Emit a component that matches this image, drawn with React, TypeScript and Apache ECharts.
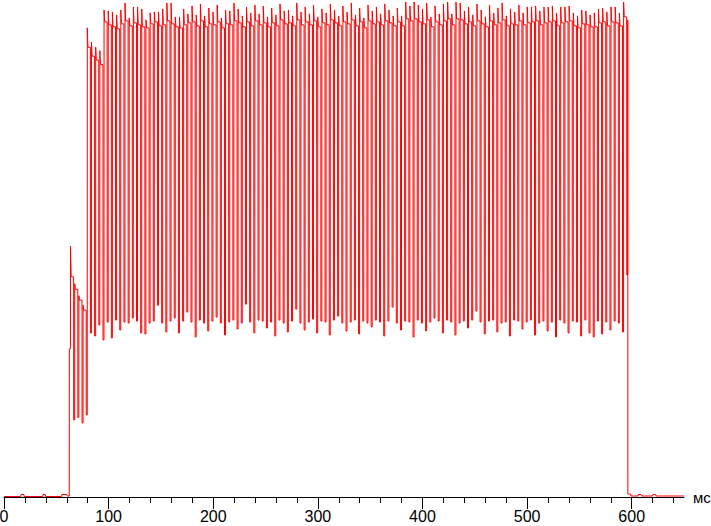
import React, { useEffect, useRef } from "react";
import * as echarts from "echarts";

// ---- Data ----
// Baseline before the light turns on (time ms, level)
const preT = [0, 16, 16.3, 19, 19.3, 37, 37.3, 39.5, 39.8, 55, 55.3, 60, 60.3, 62.4];
const preV = [0.1, 0.1, 0.5, 0.5, 0.1, 0.1, 0.5, 0.5, 0.1, 0.1, 0.5, 0.5, 0.2, 0.2];

// Turn-on step before the first PWM cycle
const stepT = [62.45, 63.5];
const stepV = [29.8, 29.8];

// PWM cycles: start time and period (ms)
const cycleStart = 63.6;
const cyclePeriod = 4.005;

// Peak reached at each rising edge
const peaks = [
  50.5, 42.9, 40.5, 38.6,
  94.4, 91.5, 90.5, 89.8,
  98.0, 97.8, 97.6, 97.0, 98.0, 99.4, 96.4, 98.6, 98.6, 98.2,
  96.0, 97.4, 97.6, 97.6, 98.2, 99.4, 99.4, 96.6, 96.6, 98.2,
  97.2, 98.8, 97.0, 99.2, 96.8, 98.4, 97.6, 99.0, 96.4, 98.0,
  97.8, 99.4, 98.2, 96.8, 98.6, 97.4, 99.0, 97.2, 98.8, 96.6,
  98.4, 97.0, 99.2, 97.8, 98.0, 96.8, 99.4, 97.6, 98.6, 97.2,
  99.0, 96.6, 98.2, 97.4, 99.2, 98.0, 96.8, 98.8, 97.6, 99.4,
  97.0, 98.4, 96.4, 99.0, 97.8, 98.6, 97.2, 99.2, 98.0, 96.8,
  98.4, 96.8, 99.6, 98.8, 99.6, 99.0, 98.2, 99.4, 96.6, 98.8,
  97.2, 99.2, 99.6, 97.2, 99.6, 99.4, 97.8, 98.6, 97.0, 99.2,
  98.0, 96.6, 99.0, 97.4, 98.4, 99.4, 96.8, 98.2, 97.6, 99.0,
  97.4, 98.6, 98.6, 98.8, 97.8, 98.6, 98.6, 98.8, 97.4, 98.6,
  98.6, 98.8, 97.4, 96.8, 98.0, 97.8, 97.0, 97.4, 98.2, 98.4,
  97.6, 98.6, 98.6, 97.4, 99.6,
];

// Plateau level after each peak
const plateaus = [
  44.3, 41.8, 39.6, 37.6,
  90.5, 88.7, 87.9, 87.0,
  95.6, 95.0, 94.6, 94.2, 95.2, 95.8, 94.8, 95.4, 95.0, 94.6,
  94.4, 95.2, 95.6, 94.8, 95.0, 95.8, 95.2, 94.6, 94.4, 95.0,
  95.4, 95.6, 94.8, 95.8, 94.6, 95.2, 95.0, 95.6, 94.4, 95.2,
  95.0, 95.8, 95.4, 94.6, 95.6, 94.8, 95.8, 95.0, 95.4, 94.6,
  95.4, 94.8, 96.0, 95.2, 95.4, 94.8, 96.0, 95.0, 95.6, 95.0,
  95.8, 94.6, 95.4, 95.0, 96.0, 95.4, 94.8, 95.6, 95.2, 96.0,
  94.8, 95.6, 94.4, 95.8, 95.2, 95.6, 95.0, 95.8, 95.4, 94.8,
  95.6, 94.8, 96.2, 95.8, 96.2, 95.6, 95.2, 96.0, 94.6, 95.6,
  95.0, 95.8, 96.2, 95.0, 96.2, 96.0, 95.2, 95.6, 94.8, 95.8,
  95.2, 94.6, 95.8, 95.0, 95.4, 96.0, 94.8, 95.2, 95.0, 95.8,
  95.0, 95.4, 95.6, 95.8, 95.0, 95.4, 95.6, 95.8, 94.8, 95.4,
  95.6, 95.8, 94.8, 94.4, 95.2, 95.0, 94.6, 94.6, 95.4, 95.6,
  94.8, 95.6, 95.4, 94.8, 96.6,
];

// Bottom of each dip
const lows = [
  15.5, 16.0, 14.9, 16.5,
  33.0, 32.4, 34.6, 31.6,
  35.2, 32.0, 35.6, 33.6, 35.2, 35.0, 36.0, 35.4, 33.0, 32.8,
  35.0, 35.4, 38.6, 35.0, 33.2, 35.4, 36.0, 33.0, 35.4, 37.2,
  35.2, 32.2, 35.6, 35.0, 33.4, 35.4, 36.2, 35.0, 32.6, 35.2,
  35.6, 33.8, 35.0, 38.8, 35.2, 33.0, 35.6, 35.4, 34.0, 35.2,
  32.4, 35.6, 35.0, 33.2, 35.4, 37.8, 35.0, 33.6, 35.2, 35.8,
  33.0, 35.4, 35.2, 32.6, 35.6, 36.4, 35.0, 33.4, 35.2, 35.6,
  32.8, 35.4, 35.0, 34.2, 35.6, 35.2, 32.4, 35.4, 38.2, 35.0,
  33.6, 35.4, 35.2, 32.2, 35.6, 35.0, 33.4, 35.2, 36.0, 35.4,
  33.0, 35.6, 35.2, 32.6, 35.0, 35.4, 34.0, 35.6, 37.4, 35.2,
  32.8, 35.4, 35.6, 33.2, 35.0, 35.2, 32.4, 35.6, 35.4, 33.8,
  35.2, 35.6, 32.6, 35.0, 35.4, 33.4, 35.2, 32.2, 35.6, 35.0,
  33.0, 35.4, 35.2, 32.4, 35.6, 33.0, 32.2, 35.4, 32.8, 35.2,
  33.6, 35.4, 35.0, 33.2, 44.7,
];

// Turn-off and baseline afterwards
const postT = [596.25, 596.35, 599, 599.3, 606, 606.3, 609, 609.3, 620, 620.3, 623, 623.3, 650];
const postV = [96.0, 0.6, 0.6, 0.2, 0.2, 0.5, 0.5, 0.2, 0.2, 0.5, 0.5, 0.2, 0.2];

// Axis ticks
const majorTicks = [0, 100, 200, 300, 400, 500, 600];
const minorTicks = [
  20, 40, 60, 80, 120, 140, 160, 180, 220, 240, 260, 280, 320, 340, 360, 380,
  420, 440, 460, 480, 520, 540, 560, 580, 620, 640,
];
const xUnit = "мс";

function buildSeries(): number[][] {
  const pts: number[][] = [];
  preT.forEach((t, i) => pts.push([t, preV[i]]));
  stepT.forEach((t, i) => pts.push([t, stepV[i]]));
  for (let k = 0; k < peaks.length; k++) {
    const s = cycleStart + k * cyclePeriod;
    pts.push([s, peaks[k]]);
    pts.push([s + 0.6, plateaus[k]]);
    pts.push([s + 2.95, plateaus[k]]);
    pts.push([s + 3.0, lows[k]]);
    pts.push([s + 3.95, lows[k]]);
  }
  postT.forEach((t, i) => pts.push([t, postV[i]]));
  return pts;
}

export default function App() {
  const ref = useRef<HTMLDivElement>(null);
  useEffect(() => {
    if (!ref.current) return;
    const chart = echarts.init(ref.current, undefined, { renderer: "svg" });
    const font = "'Liberation Sans', Arial, sans-serif";
    chart.setOption({
      animation: false,
      backgroundColor: "#ffffff",
      grid: {
        left: 4,
        right: 27,
        top: 0,
        bottom: 29,
        containLabel: false,
        outerBoundsMode: "none",
      },
      xAxis: [
        {
          type: "value",
          min: 0,
          max: 650,
          position: "bottom",
          name: xUnit,
          nameLocation: "end",
          nameGap: 9,
          nameTextStyle: { color: "#000", fontSize: 15, fontFamily: font, fontWeight: "normal" },
          axisLine: { show: true, lineStyle: { color: "#000", width: 1 } },
          axisTick: { show: true, length: 12, customValues: majorTicks, lineStyle: { color: "#000", width: 1 } },
          axisLabel: {
            show: true,
            customValues: majorTicks,
            color: "#000",
            fontSize: 16,
            fontFamily: font,
            margin: 11,
          },
          splitLine: { show: false },
        },
        {
          type: "value",
          min: 0,
          max: 650,
          position: "bottom",
          offset: 0,
          axisLine: { show: false },
          axisTick: { show: true, length: 6, customValues: minorTicks, lineStyle: { color: "#000", width: 1 } },
          axisLabel: { show: false },
          splitLine: { show: false },
        },
      ],
      yAxis: {
        type: "value",
        min: 0,
        max: 100,
        show: false,
        splitLine: { show: false },
      },
      series: [
        {
          type: "line",
          xAxisIndex: 0,
          data: buildSeries(),
          showSymbol: false,
          symbol: "none",
          silent: true,
          lineStyle: { color: "#ff0000", width: 1 },
          z: 5,
        },
      ],
    });
    return () => chart.dispose();
  }, []);
  return (
    <div
      ref={ref}
      style={{ position: "fixed", left: 0, top: 0, width: 711, height: 526, background: "#fff" }}
    />
  );
}
